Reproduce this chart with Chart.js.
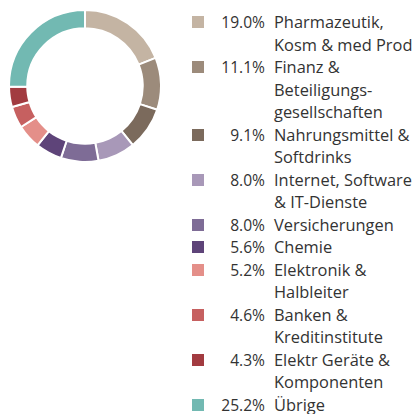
<!DOCTYPE html>
<html>
<head>
<meta charset="utf-8">
<script src="https://cdn.jsdelivr.net/npm/chart.js@4/dist/chart.umd.min.js"></script>
<style>
  html, body { margin: 0; padding: 0; background: #ffffff; }
  body { width: 417px; height: 414px; position: relative; overflow: hidden; font-family: "Open Sans", "Noto Sans", sans-serif; }
  #chartBox { position: absolute; left: 8px; top: 9px; width: 154px; height: 154px; }
  #legend { position: absolute; left: 192px; top: 11px; width: 225px; color: #333333; font-size: 16.4px; line-height: 22.5px; }
  .item { position: relative; display: flex; }
  .sw { position: absolute; left: 0; top: 5px; width: 12px; height: 12px; }
  .pct { width: 73px; text-align: right; flex: none; font-size: 15.6px; }
  .lab { margin-left: 9px; white-space: nowrap; }
</style>
</head>
<body>
<div id="chartBox"><canvas id="c"></canvas></div>
<div id="legend"></div>
<script>
const categories = [
  ["Pharmazeutik,", "Kosm & med Prod"],
  ["Finanz &", "Beteiligungs-", "gesellschaften"],
  ["Nahrungsmittel &", "Softdrinks"],
  ["Internet, Software", "& IT-Dienste"],
  ["Versicherungen"],
  ["Chemie"],
  ["Elektronik &", "Halbleiter"],
  ["Banken &", "Kreditinstitute"],
  ["Elektr Geräte &", "Komponenten"],
  ["Übrige"]
];
const values = [19.0, 11.1, 9.1, 8.0, 8.0, 5.6, 5.2, 4.6, 4.3, 25.2];
const colors = ["#c4b4a3", "#9c8b7b", "#7b6a5c", "#a898b8", "#7e6c96", "#5e4479", "#e48f89", "#c66060", "#a23b40", "#72b9b2"];

new Chart(document.getElementById("c"), {
  type: "doughnut",
  data: {
    labels: categories.map(l => l.join(" ")),
    datasets: [{
      data: values,
      backgroundColor: colors,
      borderColor: "#ffffff",
      borderWidth: 2
    }]
  },
  options: {
    responsive: true,
    maintainAspectRatio: false,
    animation: false,
    cutout: "76%",
    layout: { padding: 0 },
    plugins: { legend: { display: false }, tooltip: { enabled: false } }
  }
});

const legend = document.getElementById("legend");
categories.forEach((lines, i) => {
  const item = document.createElement("div");
  item.className = "item";
  const sw = document.createElement("span");
  sw.className = "sw";
  sw.style.background = colors[i];
  const pct = document.createElement("span");
  pct.className = "pct";
  pct.textContent = values[i].toFixed(1) + "%";
  const lab = document.createElement("span");
  lab.className = "lab";
  lab.innerHTML = lines.map(s => s.replace(/&/g, "&amp;")).join("<br>");
  item.appendChild(sw); item.appendChild(pct); item.appendChild(lab);
  legend.appendChild(item);
});
</script>
</body>
</html>
